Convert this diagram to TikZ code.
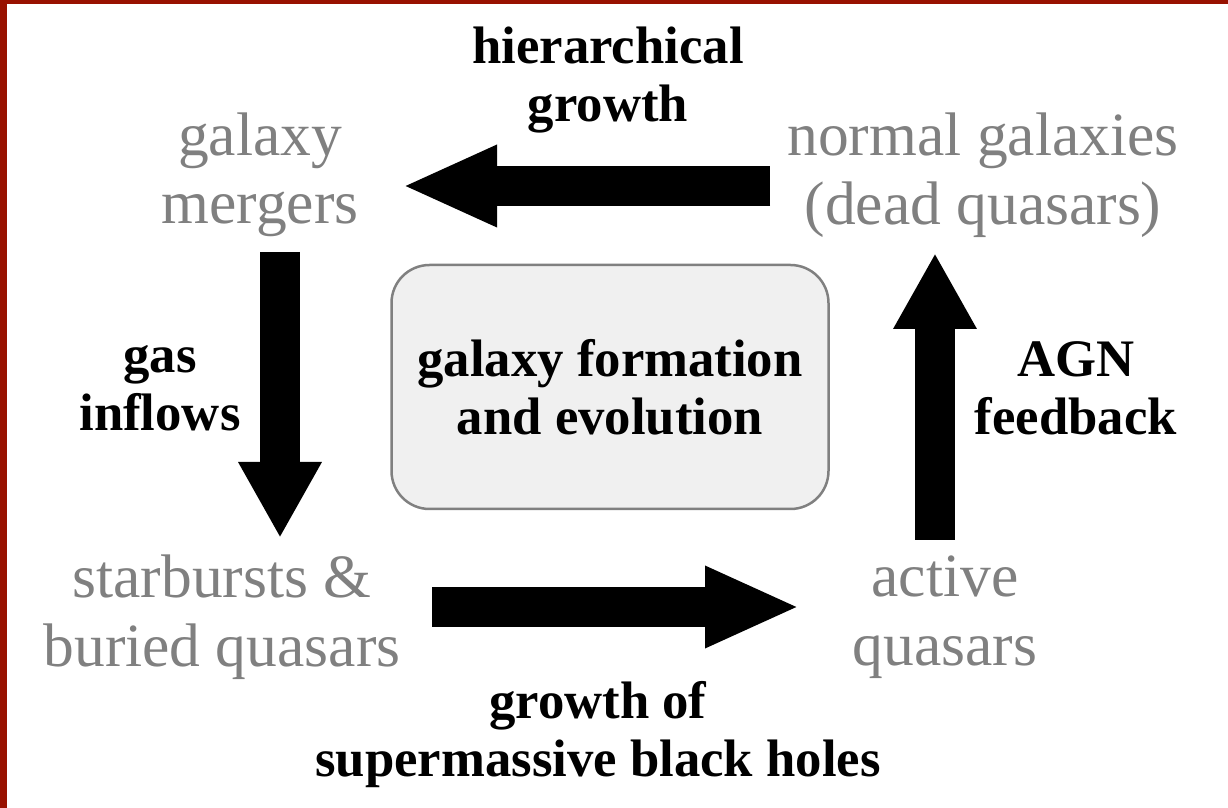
\documentclass[tikz,border=0pt]{standalone}
\usepackage{fontspec}
\setmainfont{Liberation Serif}
\usetikzlibrary{arrows.meta}
\definecolor{framered}{RGB}{152,17,0}
\definecolor{stagegray}{gray}{0.5}

\tikzset{
  stage/.style={text=stagegray, align=center, font=\fontsize{17.5}{19.5}\selectfont},
  process/.style={align=center, font=\fontsize{15}{16.5}\selectfont\bfseries},
  fatarrow/.style={line width=4mm, -{Triangle[length=9.5mm,width=7.5mm]}},
  fatarrowv/.style={line width=4mm, -{Triangle[length=7.6mm,width=7.8mm]}},
}

\begin{document}
\begin{tikzpicture}[x=0.1mm, y=-0.1mm]
    \useasboundingbox (0,0) rectangle (1228,808);
    % Frame
    \fill[framered] (0,0) rectangle (1228,4);
    \fill[framered] (0,0) rectangle (7,808);

    % Centre box
    \node[draw=black!50, fill=black!6, line width=0.25mm, rounded corners=3.8mm,
          minimum width=43.7mm, minimum height=24.4mm, process] (evolution) at (610,387)
          {galaxy formation\\and evolution};

    % Stages
    \node[stage] (mergers) at (260,175) {galaxy\\mergers};
    \node[stage] (normal) at (983,175) {normal galaxies\\(dead quasars)};
    \node[stage] (starburst) at (222,617) {starbursts \&\\buried quasars};
    \node[stage] (active) at (945,617) {active\\quasars};

    % Processes
    \node[process] (hierarchical) at (608,80) {hierarchical\\growth};
    \node[process] (inflows) at (160,388) {gas\\inflows};
    \node[process] (feedback) at (1076,388) {AGN\\feedback};
    \node[process] (bhgrowth) at (598,735) {growth of\\supermassive black holes};

    % Arrow ends
    \coordinate (hier-tail) at (770,186);
    \coordinate (hier-tip) at (402,186);
    \coordinate (inflow-tail) at (280,252);
    \coordinate (inflow-tip) at (280,538);
    \coordinate (bh-tail) at (432,607);
    \coordinate (bh-tip) at (800,607);
    \coordinate (fb-tail) at (935,540);
    \coordinate (fb-tip) at (935,253);

    % Arrows
    \draw[fatarrow] (hier-tail) -- (hier-tip);
    \draw[fatarrowv] (inflow-tail) -- (inflow-tip);
    \draw[fatarrow] (bh-tail) -- (bh-tip);
    \draw[fatarrowv] (fb-tail) -- (fb-tip);
\end{tikzpicture}
\end{document}
